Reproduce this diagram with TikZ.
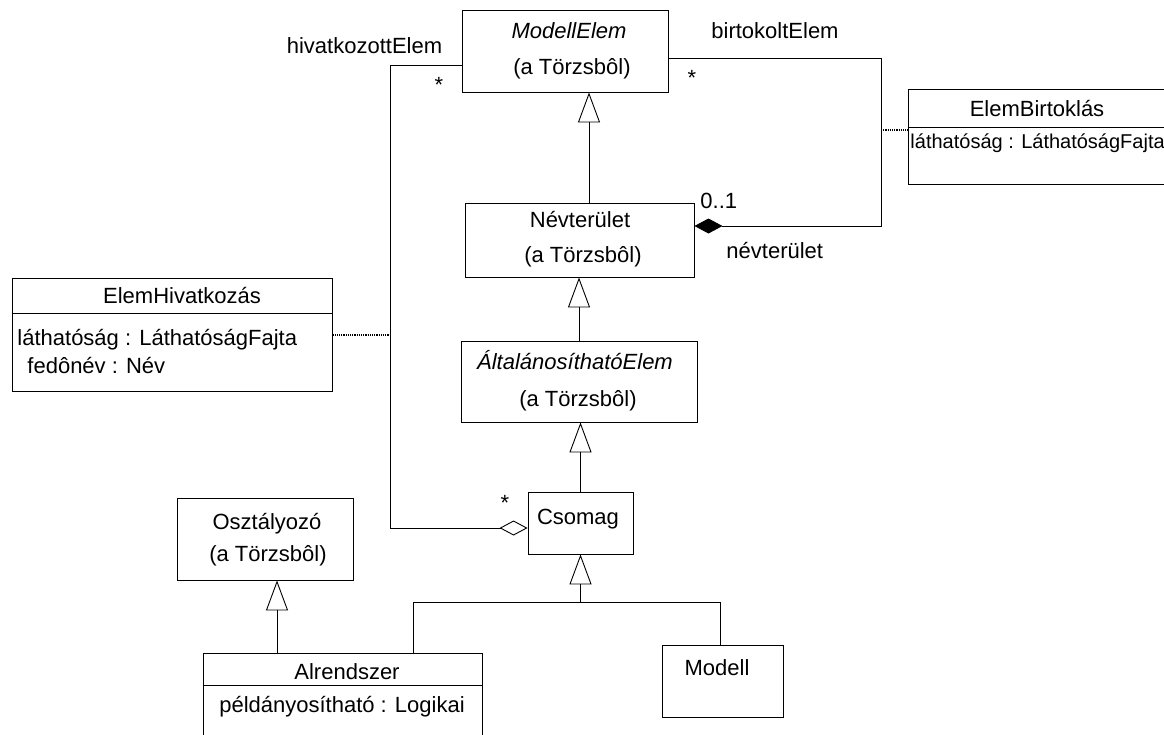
\documentclass[tikz,border=0pt]{standalone}
\usepackage{fontspec}
\setmainfont{Liberation Sans}
\usetikzlibrary{arrows.meta}

\begin{document}
\begin{tikzpicture}[x=1pt,y=-1pt,
  font=\fontsize{22}{26}\selectfont,
  line width=0.9pt,
  box/.style={draw, rectangle, inner sep=0pt, line width=0.9pt},
  txt/.style={anchor=base, inner sep=0pt},
  ltxt/.style={anchor=base west, inner sep=0pt},
  gen/.style={-{Triangle[open,length=30pt,width=22pt]}},
  dotline/.style={densely dotted, line width=1.2pt},
  comp/.style={{Diamond[length=28pt,width=15pt]}-},
  aggr/.style={{Diamond[open,length=28pt,width=15pt]}-}
]
\useasboundingbox (0,0) rectangle (1164,734);

% class boxes
\node[box, minimum width=206pt, minimum height=82pt] (modellelem) at (565,51) {};
\node[box, minimum width=229pt, minimum height=74pt] (nevterulet) at (579.5,240) {};
\node[box, minimum width=236pt, minimum height=81pt] (altalanos) at (579,381.5) {};
\node[box, minimum width=105pt, minimum height=62pt] (csomag) at (580.5,523) {};
\node[box, minimum width=176pt, minimum height=82pt] (osztalyozo) at (265,539) {};
\node[box, minimum width=279pt, minimum height=92pt] (alrendszer) at (342.5,699) {};
\node[box, minimum width=121pt, minimum height=72pt] (modell) at (722.5,681) {};
\node[box, minimum width=320pt, minimum height=113pt] (elemhiv) at (172,334.5) {};
\node[box, minimum width=267pt, minimum height=95pt] (elembirt) at (1041.5,136.5) {};

% compartment dividers
\draw (elemhiv.west |- 0,313) -- (elemhiv.east |- 0,313);
\draw (elembirt.west |- 0,127) -- (elembirt.east |- 0,127);
\draw (alrendszer.west |- 0,685) -- (alrendszer.east |- 0,685);

% class texts
\node[txt] (t-me1) at (569,38) {\itshape ModellElem};
\node[txt] (t-me2) at (572,74) {(a Törzsbôl)};
\node[txt] (t-nt1) at (580,227) {Névterület};
\node[txt] (t-nt2) at (583,262) {(a Törzsbôl)};
\node[txt] (t-ae1) at (575,369) {\itshape ÁltalánosíthatóElem};
\node[txt] (t-ae2) at (578,406) {(a Törzsbôl)};
\node[txt] (t-cs) at (578,524) {Csomag};
\node[txt] (t-os1) at (267,529) {Osztályozó};
\node[txt] (t-os2) at (268,561) {(a Törzsbôl)};
\node[txt] (t-al1) at (347,679) {Alrendszer};
\node[txt] (t-al2) at (342,712) {példányosítható : Logikai};
\node[txt] (t-mo) at (717,675) {Modell};
\node[txt] (t-eh1) at (182,303) {ElemHivatkozás};
\node[ltxt] (t-eh2) at (17,345) {láthatóság : LáthatóságFajta};
\node[ltxt] (t-eh3) at (27,373) {fedônév : Név};
\node[txt] (t-eb1) at (1037,116) {ElemBirtoklás};
\node[ltxt, font=\fontsize{20}{24}\selectfont] (t-eb2) at (910,148) {láthatóság : LáthatóságFajta};

% generalizations
\draw[gen] ([xshift=9.5pt]nevterulet.north) -- ([xshift=9.5pt]nevterulet.north |- modellelem.south);
\draw[gen] (altalanos.north) -- (altalanos.north |- nevterulet.south);
\draw[gen] (csomag.north) -- (csomag.north |- altalanos.south);
\coordinate (jn) at (580.5,602);
\draw[gen] (jn) -- (csomag.south);
\draw ([xshift=70.5pt]alrendszer.north) |- (jn) -| ([xshift=-2.5pt]modell.north);
\draw[gen] ([xshift=12pt]osztalyozo.south |- alrendszer.north) -- ([xshift=12pt]osztalyozo.south);

% associations
\draw[aggr] ([yshift=-5pt]csomag.west) -- ++(-137,0) coordinate (hc) |- ([yshift=-14pt]modellelem.west);
\draw[comp] ([yshift=14pt]nevterulet.east) -- ++(187,0) coordinate (bc) |- ([yshift=-7pt]modellelem.east);

% association classes
\coordinate (hj) at (391,335);
\draw[dotline] (elemhiv.east |- hj) -- (hj);
\coordinate (bj) at (881,130);
\draw[dotline] (bj) -- (elembirt.west |- bj);

% role names and multiplicities
\node[txt] (r-hiv) at (364.5,53) {hivatkozottElem};
\node[txt] (r-birt) at (775,38) {birtokoltElem};
\node[txt] (m-hiv) at (439,92) {*};
\node[txt] (m-birt) at (692,85) {*};
\node[txt] (m-cs) at (505,510) {*};
\node[ltxt] (m-nt) at (700,208) {0..1};
\node[ltxt] (r-nt) at (726,258) {névterület};
\end{tikzpicture}
\end{document}
